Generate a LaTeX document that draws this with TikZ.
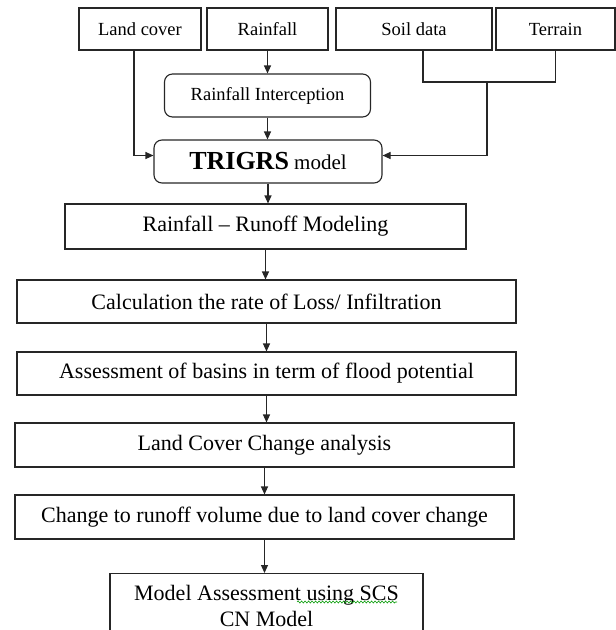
\documentclass[tikz,border=0pt]{standalone}
\usepackage{fontspec}
\setmainfont{Liberation Serif}
\usetikzlibrary{arrows.meta,decorations.pathmorphing}

\begin{document}
\begin{tikzpicture}[x=1pt, y=-1pt,
	box/.style={draw=black!85, line width=1.1pt, inner sep=0pt, minimum height=43pt, font=\fontsize{22}{27}\selectfont},
	topbox/.style={box, minimum height=42pt, font=\fontsize{18.5}{22}\selectfont},
	rbox/.style={box, rounded corners=8pt},
	arr/.style={draw=black!85, line width=1.1pt, -{Triangle[length=8pt,width=7pt]}}]
	\useasboundingbox (0,0) rectangle (616,630);
	\node[topbox, minimum width=122pt] (landcover) at (140,29) {Land cover};
	\node[topbox, minimum width=121pt] (rainfall) at (267.5,29) {Rainfall};
	\node[topbox, minimum width=156pt] (soil) at (414,29) {Soil data};
	\node[topbox, minimum width=119pt] (terrain) at (555.5,29) {Terrain};
	\node[rbox, minimum width=206pt, font=\fontsize{18.5}{22}\selectfont] (intercept) at (267.5,95.5) {Rainfall Interception};
	\node[rbox, minimum width=228pt, font=\fontsize{21}{25}\selectfont] (trigrs) at (268,161.5) {{\fontsize{26}{30}\selectfont\bfseries TRIGRS} model};
	\node[box, minimum width=401pt, minimum height=45pt] (runoff) at (265.5,226.5) {Rainfall – Runoff Modeling};
	\node[box, minimum width=499pt] (loss) at (266.5,301.5) {Calculation the rate of Loss/ Infiltration};
	\node[box, minimum width=499pt] (basins) at (266.5,373.5) {Assessment of basins in term of flood potential};
	\node[box, minimum width=499pt, minimum height=44pt] (lcchange) at (264.5,445) {Land Cover Change analysis};
	\node[box, minimum width=499pt, minimum height=44pt] (runvol) at (264.5,517) {Change to runoff volume due to land cover change};
	\node[box, minimum width=313pt, minimum height=64pt, align=center, anchor=north, font=\fontsize{22}{26}\selectfont] (scs) at (266.5,573) {Model Assessment using SCS\\CN Model};
	\draw[green!60!black, line width=0.6pt, decorate, decoration={snake, amplitude=1pt, segment length=3.5pt}] (297,602) -- (397,602);

	\coordinate (join) at (487,82);
	\draw[arr] (rainfall.south) -- (rainfall.south |- intercept.north);
	\draw[arr] (intercept.south) -- (intercept.south |- trigrs.north);
	\draw[arr] ([xshift=-6pt]landcover.south) |- ([yshift=6pt]trigrs.west);
	\draw[draw=black!85, line width=1.1pt] ([xshift=9pt]soil.south) |- (terrain.south |- join) -- (terrain.south);
	\draw[arr] (join) |- ([yshift=6pt]trigrs.east);
	\foreach \a/\b in {trigrs/runoff, runoff/loss, loss/basins, basins/lcchange, lcchange/runvol, runvol/scs}
		\draw[arr] (\a.south) -- (\a.south |- \b.north);
\end{tikzpicture}
\end{document}
